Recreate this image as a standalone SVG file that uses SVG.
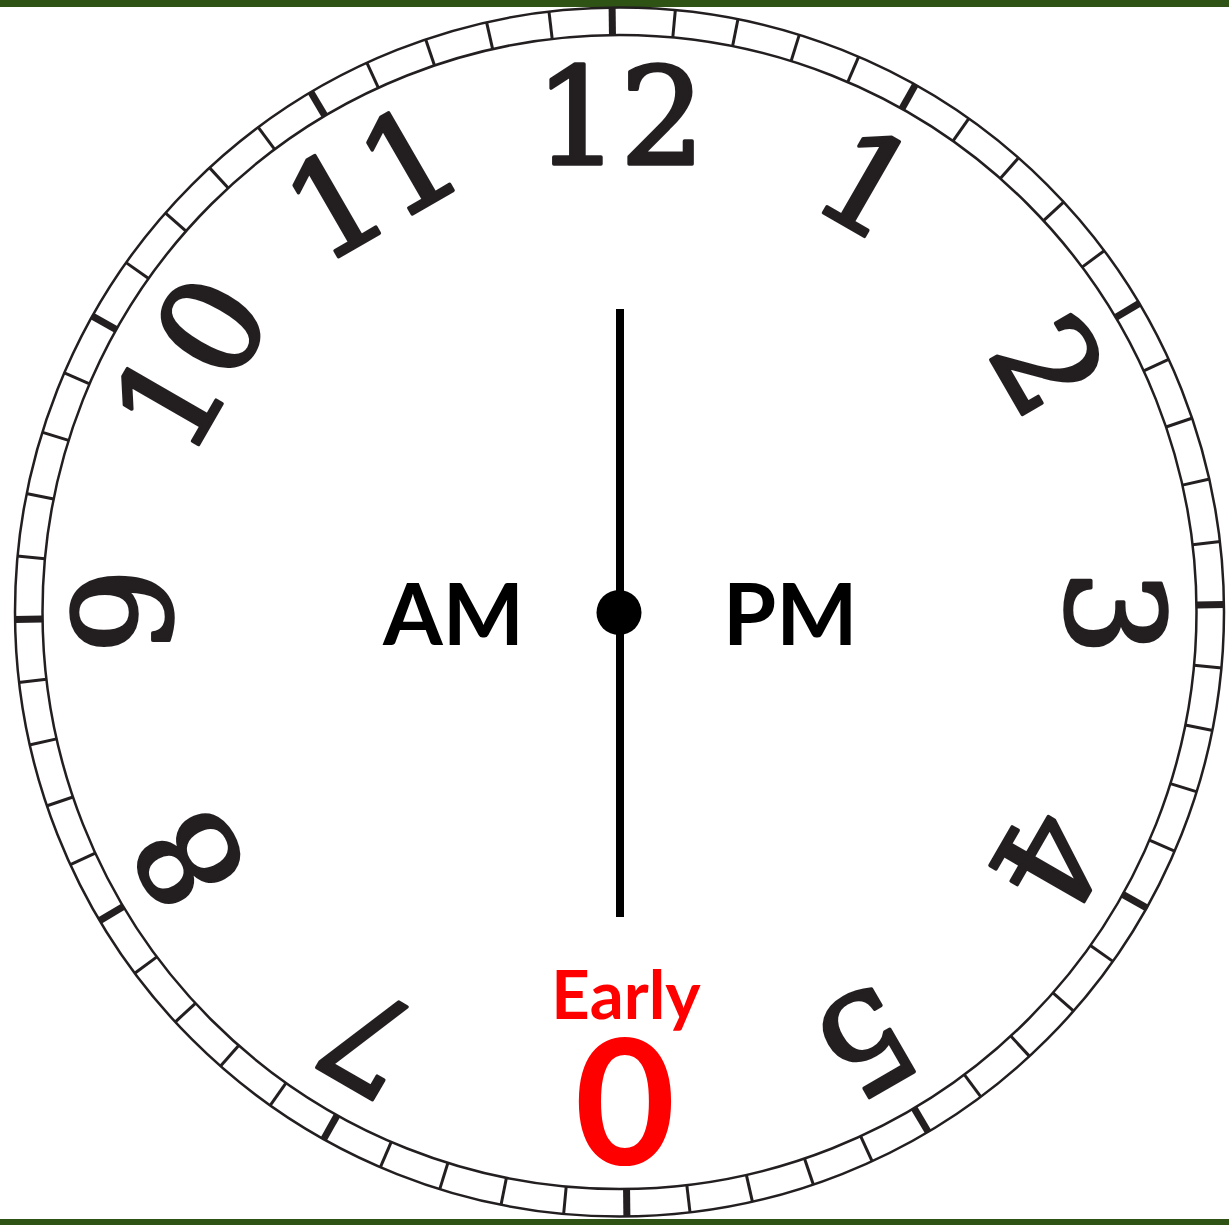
<svg xmlns="http://www.w3.org/2000/svg" xmlns:xlink="http://www.w3.org/1999/xlink" width="1229" height="1225" viewBox="0 0 1229 1225">
<style>
.ring{fill:none;stroke:#231f20;stroke-width:2.5}
.num{font-family:"DejaVu Serif",serif;font-size:134px;fill:#231f20;stroke:#231f20;stroke-width:3.5;stroke-linejoin:round;text-anchor:middle}
.lbl{font-family:Lato,"Liberation Sans",sans-serif;font-weight:bold;fill:#000}
.red{font-family:Lato,"Liberation Sans",sans-serif;font-weight:bold;fill:#ff0000;text-anchor:middle}
</style>
<defs>
<line id="m" x1="619.5" y1="7" x2="619.5" y2="35" stroke="#231f20" stroke-width="3"/>
<line id="h" x1="619.5" y1="7" x2="619.5" y2="35" stroke="#231f20" stroke-width="7"/>
</defs>
<rect x="0" y="0" width="1229" height="1225" fill="#ffffff"/>
<rect x="0" y="0" width="1229" height="7" fill="#2f5314"/>
<rect x="0" y="1219" width="1229" height="6" fill="#2f5314"/>
<g id="dial">
<circle class="ring" cx="619.5" cy="612" r="604.5"/>
<circle class="ring" cx="619.5" cy="612" r="577"/>
<g id="ticks">
<use xlink:href="#h" transform="rotate(-0.7 619.5 612)"/>
<use xlink:href="#m" transform="rotate(5.3 619.5 612)"/>
<use xlink:href="#m" transform="rotate(11.3 619.5 612)"/>
<use xlink:href="#m" transform="rotate(17.3 619.5 612)"/>
<use xlink:href="#m" transform="rotate(23.3 619.5 612)"/>
<use xlink:href="#h" transform="rotate(29.3 619.5 612)"/>
<use xlink:href="#m" transform="rotate(35.3 619.5 612)"/>
<use xlink:href="#m" transform="rotate(41.3 619.5 612)"/>
<use xlink:href="#m" transform="rotate(47.3 619.5 612)"/>
<use xlink:href="#m" transform="rotate(53.3 619.5 612)"/>
<use xlink:href="#h" transform="rotate(59.3 619.5 612)"/>
<use xlink:href="#m" transform="rotate(65.3 619.5 612)"/>
<use xlink:href="#m" transform="rotate(71.3 619.5 612)"/>
<use xlink:href="#m" transform="rotate(77.3 619.5 612)"/>
<use xlink:href="#m" transform="rotate(83.3 619.5 612)"/>
<use xlink:href="#h" transform="rotate(89.3 619.5 612)"/>
<use xlink:href="#m" transform="rotate(95.3 619.5 612)"/>
<use xlink:href="#m" transform="rotate(101.3 619.5 612)"/>
<use xlink:href="#m" transform="rotate(107.3 619.5 612)"/>
<use xlink:href="#m" transform="rotate(113.3 619.5 612)"/>
<use xlink:href="#h" transform="rotate(119.3 619.5 612)"/>
<use xlink:href="#m" transform="rotate(125.3 619.5 612)"/>
<use xlink:href="#m" transform="rotate(131.3 619.5 612)"/>
<use xlink:href="#m" transform="rotate(137.3 619.5 612)"/>
<use xlink:href="#m" transform="rotate(143.3 619.5 612)"/>
<use xlink:href="#h" transform="rotate(149.3 619.5 612)"/>
<use xlink:href="#m" transform="rotate(155.3 619.5 612)"/>
<use xlink:href="#m" transform="rotate(161.3 619.5 612)"/>
<use xlink:href="#m" transform="rotate(167.3 619.5 612)"/>
<use xlink:href="#m" transform="rotate(173.3 619.5 612)"/>
<use xlink:href="#h" transform="rotate(179.3 619.5 612)"/>
<use xlink:href="#m" transform="rotate(185.3 619.5 612)"/>
<use xlink:href="#m" transform="rotate(191.3 619.5 612)"/>
<use xlink:href="#m" transform="rotate(197.3 619.5 612)"/>
<use xlink:href="#m" transform="rotate(203.3 619.5 612)"/>
<use xlink:href="#h" transform="rotate(209.3 619.5 612)"/>
<use xlink:href="#m" transform="rotate(215.3 619.5 612)"/>
<use xlink:href="#m" transform="rotate(221.3 619.5 612)"/>
<use xlink:href="#m" transform="rotate(227.3 619.5 612)"/>
<use xlink:href="#m" transform="rotate(233.3 619.5 612)"/>
<use xlink:href="#h" transform="rotate(239.3 619.5 612)"/>
<use xlink:href="#m" transform="rotate(245.3 619.5 612)"/>
<use xlink:href="#m" transform="rotate(251.3 619.5 612)"/>
<use xlink:href="#m" transform="rotate(257.3 619.5 612)"/>
<use xlink:href="#m" transform="rotate(263.3 619.5 612)"/>
<use xlink:href="#h" transform="rotate(269.3 619.5 612)"/>
<use xlink:href="#m" transform="rotate(275.3 619.5 612)"/>
<use xlink:href="#m" transform="rotate(281.3 619.5 612)"/>
<use xlink:href="#m" transform="rotate(287.3 619.5 612)"/>
<use xlink:href="#m" transform="rotate(293.3 619.5 612)"/>
<use xlink:href="#h" transform="rotate(299.3 619.5 612)"/>
<use xlink:href="#m" transform="rotate(305.3 619.5 612)"/>
<use xlink:href="#m" transform="rotate(311.3 619.5 612)"/>
<use xlink:href="#m" transform="rotate(317.3 619.5 612)"/>
<use xlink:href="#m" transform="rotate(323.3 619.5 612)"/>
<use xlink:href="#h" transform="rotate(329.3 619.5 612)"/>
<use xlink:href="#m" transform="rotate(335.3 619.5 612)"/>
<use xlink:href="#m" transform="rotate(341.3 619.5 612)"/>
<use xlink:href="#m" transform="rotate(347.3 619.5 612)"/>
<use xlink:href="#m" transform="rotate(353.3 619.5 612)"/>
</g>
</g>
<g id="numbers">
<text class="num" x="620" y="164" transform="rotate(0 619 612)">12</text>
<text class="num" x="620" y="164" transform="rotate(30 619 612)">1</text>
<text class="num" x="620" y="164" transform="rotate(60 619 612)">2</text>
<text class="num" x="620" y="164" transform="rotate(90 619 612)">3</text>
<text class="num" x="620" y="164" transform="rotate(120 619 612)">4</text>
<text class="num" x="620" y="164" transform="rotate(150 619 612)">5</text>
<text class="num" x="620" y="164" transform="rotate(210 619 612)">7</text>
<text class="num" x="620" y="164" transform="rotate(240 619 612)">8</text>
<text class="num" x="620" y="164" transform="rotate(270 619 612)">9</text>
<text class="num" x="620" y="164" transform="rotate(300 619 612)">10</text>
<text class="num" x="620" y="164" transform="rotate(330 619 612)">11</text>
</g>
<g id="hand">
<rect x="616" y="309" width="8" height="608" fill="#000"/>
<circle cx="619" cy="612.5" r="22.5" fill="#000"/>
</g>
<g id="labels">
<text class="lbl" x="383" y="645" font-size="86">AM</text>
<text class="lbl" x="723" y="645" font-size="86">PM</text>
<text class="red" x="626" y="1019" font-size="67">Early</text>
<text class="red" x="625" y="1165" font-size="174">0</text>
</g>
</svg>
